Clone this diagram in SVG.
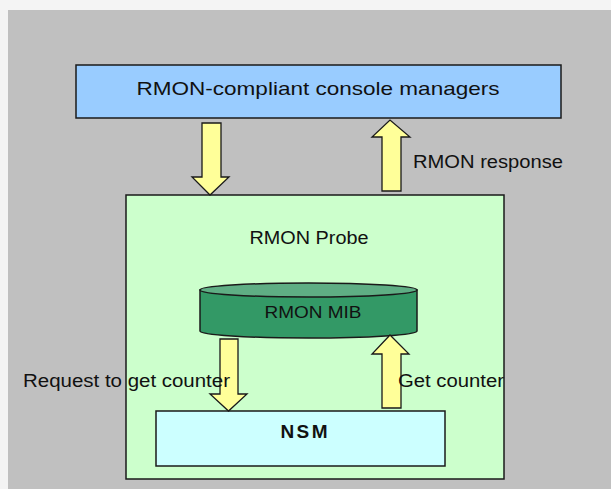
<svg xmlns="http://www.w3.org/2000/svg" width="611" height="489" viewBox="0 0 611 489">
<style>
.box{stroke:#1a1a1a;stroke-width:1.5}
.arr{fill:#ffff99;stroke:#1a1a1a;stroke-width:1.3;stroke-linejoin:miter}
text{font-family:"Liberation Sans",Arial,sans-serif;fill:#111}
</style>
<rect x="0" y="0" width="611" height="489" fill="#f4f4f4"/>
<rect x="8" y="10" width="603" height="479" fill="#c0c0c0"/>
<g id="console">
<rect class="box" x="76" y="65" width="485" height="53" fill="#99ccff"/>
<text x="318" y="95" font-size="19" text-anchor="middle" textLength="363" lengthAdjust="spacingAndGlyphs">RMON-compliant console managers</text>
</g>
<g id="probe">
<rect class="box" x="126" y="195" width="378" height="284" fill="#ccffcc"/>
<text x="309" y="244" font-size="17.5" text-anchor="middle" textLength="119" lengthAdjust="spacingAndGlyphs">RMON Probe</text>
</g>
<g id="mib">
<path class="box" d="M200,290 L200,331 A108.5,7 0 0 0 417,331 L417,290 Z" fill="#339966"/>
<ellipse class="box" cx="308.5" cy="290" rx="108.5" ry="7" fill="#5fae84"/>
<text x="313" y="318" font-size="17" text-anchor="middle" textLength="97" lengthAdjust="spacingAndGlyphs">RMON MIB</text>
</g>
<g id="nsm">
<rect class="box" x="156" y="411" width="289" height="55" fill="#ccffff"/>
<text x="304" y="438" font-size="19" font-weight="bold" text-anchor="middle" textLength="47" lengthAdjust="spacing">NSM</text>
</g>
<g id="connectors">
<path class="arr" d="M202,123 L221,123 L221,177 L229,177 L210,195 L192,177 L202,177 Z"/>
<path class="arr" d="M382,191 L401,191 L401,137 L410,137 L390,120 L372,137 L382,137 Z"/>
<path class="arr" d="M220,339 L238,339 L238,394 L247,394 L228.5,411 L210,394 L220,394 Z"/>
<path class="arr" d="M382,408 L401,408 L401,354 L409,354 L390,335 L372,354 L382,354 Z"/>
<text x="413" y="168" font-size="17.5" textLength="150" lengthAdjust="spacingAndGlyphs">RMON response</text>
<text x="23" y="387" font-size="18" textLength="207" lengthAdjust="spacingAndGlyphs">Request to get counter</text>
<text x="398" y="387" font-size="18" textLength="106" lengthAdjust="spacingAndGlyphs">Get counter</text>
</g>
</svg>
